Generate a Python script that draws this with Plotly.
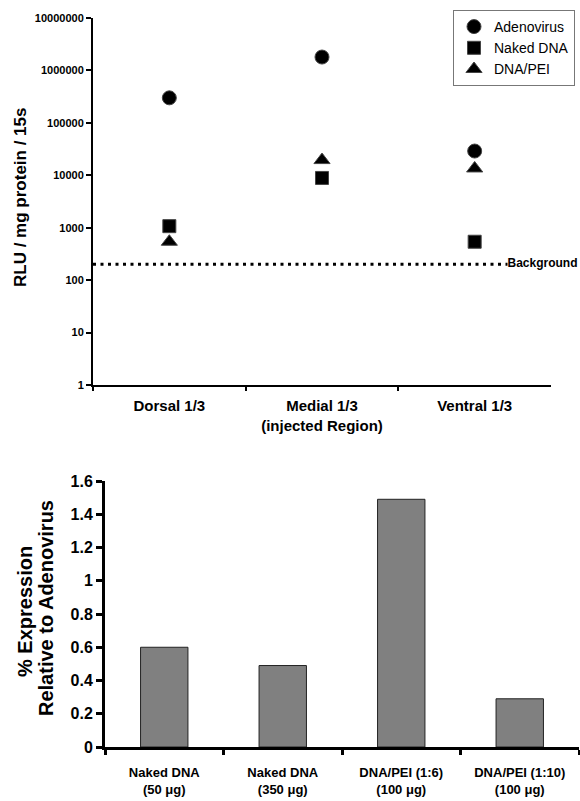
import numpy as np
import plotly.graph_objects as go

# ---------------- data ----------------
regions = ["Dorsal 1/3", "Medial 1/3<br>(injected Region)", "Ventral 1/3"]
adenovirus = [3.0e5, 1.8e6, 2.9e4]
naked_dna = [1070, 8900, 540]
dna_pei = [540, 19500, 13500]
background_level = 200
background_label = "Background"

log_tickvals = [1, 10, 100, 1000, 10000, 100000, 1000000, 10000000]
log_ticktext = ["1", "10", "100", "1000", "10000", "100000", "1000000", "10000000"]

formulations = ["Naked DNA<br>(50 μg)", "Naked DNA<br>(350 μg)",
                "DNA/PEI (1:6)<br>(100 μg)", "DNA/PEI (1:10)<br>(100 μg)"]
pct_expression = [0.60, 0.49, 1.49, 0.29]

# ---------------- layout helpers ----------------
W, H = 580, 801
FONT = "Liberation Sans, Arial, sans-serif"


def px(x):
    return x / W


def py(y):
    return 1 - y / H


fig = go.Figure()

marker_line = dict(color="#444", width=1)
fig.add_trace(go.Scatter(x=regions, y=adenovirus, mode="markers", name="Adenovirus",
                         marker=dict(symbol="circle", size=14, color="black", line=marker_line),
                         xaxis="x", yaxis="y"))
fig.add_trace(go.Scatter(x=regions, y=naked_dna, mode="markers", name="Naked DNA",
                         marker=dict(symbol="square", size=13, color="black", line=marker_line),
                         xaxis="x", yaxis="y"))
fig.add_trace(go.Scatter(x=regions, y=dna_pei, mode="markers", name="DNA/PEI",
                         marker=dict(symbol="triangle-up", size=14, color="black", line=marker_line),
                         xaxis="x", yaxis="y"))

# background dotted line on a hidden overlay axis spanning the plot width
bg_span = [0.0, 0.905]
fig.add_trace(go.Scatter(x=bg_span, y=[background_level, background_level],
                         mode="lines+text", text=["", background_label],
                         textposition="middle right",
                         textfont=dict(family=FONT, size=12, color="black", weight="bold"),
                         line=dict(color="black", width=3, dash="3px,4.5px"),
                         showlegend=False, xaxis="x3", yaxis="y", cliponaxis=False))

fig.add_trace(go.Bar(x=formulations, y=pct_expression, showlegend=False,
                     marker=dict(color="#808080", line=dict(color="#222", width=1)),
                     xaxis="x2", yaxis="y2"))

top_x_domain = [px(93), px(551)]
fig.update_layout(
    width=W, height=H,
    margin=dict(l=0, r=0, t=0, b=0),
    paper_bgcolor="white", plot_bgcolor="white",
    font=dict(family=FONT, color="black"),
    bargap=0.6,
    showlegend=True,
    legend=dict(x=px(453), y=py(10), xanchor="left", yanchor="top",
                bordercolor="#777", borderwidth=1, bgcolor="white",
                font=dict(family=FONT, size=14, color="black"),
                tracegroupgap=0, itemwidth=30),
    xaxis=dict(domain=top_x_domain, type="category", range=[-0.5, 2.5],
               showline=True, linecolor="black", linewidth=2,
               ticks="outside", tickson="boundaries", ticklen=4, tickwidth=2, tickcolor="black",
               tickfont=dict(family=FONT, size=15, color="black", weight="bold"),
               tickangle=0, ticklabelstandoff=6,
               showgrid=False, zeroline=False, automargin=False, fixedrange=True),
    xaxis3=dict(domain=top_x_domain, overlaying="x", range=[0, 1], visible=False,
                automargin=False),
    yaxis=dict(domain=[py(385), py(18)], type="log", range=[0, 7],
               tickvals=log_tickvals, ticktext=log_ticktext,
               showline=True, linecolor="black", linewidth=2,
               ticks="outside", ticklen=5, tickwidth=2, tickcolor="black",
               tickfont=dict(family=FONT, size=11, color="black", weight="bold"),
               showgrid=False, zeroline=False, automargin=False, anchor="x"),
    xaxis2=dict(domain=[px(105), px(579)], type="category", range=[-0.5, 3.5],
                showline=True, linecolor="black", linewidth=3,
                ticks="outside", tickson="boundaries", ticklen=5, tickwidth=3, tickcolor="black",
                tickfont=dict(family=FONT, size=13, color="black", weight="bold"),
                tickangle=0, ticklabelstandoff=11, anchor="y2",
                showgrid=False, zeroline=False, automargin=False),
    yaxis2=dict(domain=[py(747), py(481)], range=[0, 1.6], dtick=0.2, tick0=0,
                showline=True, linecolor="black", linewidth=3,
                ticks="outside", ticklen=6, tickwidth=3, tickcolor="black",
                tickfont=dict(family=FONT, size=16, color="black", weight="bold"),
                showgrid=False, zeroline=False, automargin=False, anchor="x2"),
    annotations=[
        dict(text="RLU / mg protein / 15s", textangle=-90, xref="paper", yref="paper",
             x=px(21), y=py(198), xanchor="center", yanchor="middle", showarrow=False,
             font=dict(family=FONT, size=17, color="black", weight="bold")),
        dict(text="% Expression", textangle=-90, xref="paper", yref="paper",
             x=px(25), y=py(612), xanchor="center", yanchor="middle", showarrow=False,
             font=dict(family=FONT, size=20, color="black", weight="bold")),
        dict(text="Relative to Adenovirus", textangle=-90, xref="paper", yref="paper",
             x=px(46), y=py(608), xanchor="center", yanchor="middle", showarrow=False,
             font=dict(family=FONT, size=20, color="black", weight="bold")),
    ],
)

fig.write_html("out.html", config={"displayModeBar": False},
               post_script="document.body.style.margin='0';")
